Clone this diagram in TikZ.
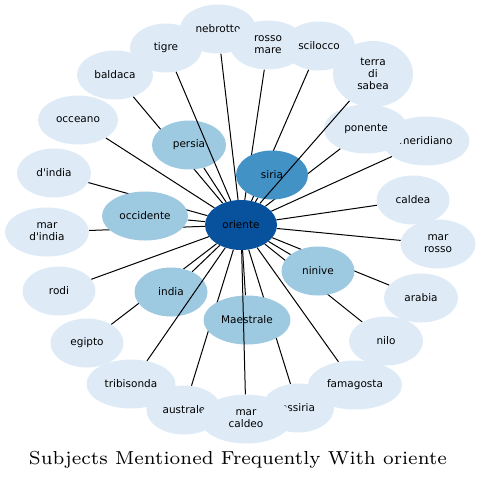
\documentclass[tikz,border=0pt]{standalone}
\usepackage{fontspec}
\newfontfamily\nodefont{DejaVu Sans}
\newfontfamily\titlefont{lmroman7-regular.otf}
\usepackage{tikz}
\usetikzlibrary{shapes.geometric}
\definecolor{paleblue}{HTML}{DEEBF7}
\definecolor{midblue}{HTML}{9ECAE1}
\definecolor{brightblue}{HTML}{4292C6}
\definecolor{deepblue}{HTML}{08519C}
\pgfdeclarelayer{background}
\pgfsetlayers{background,main}

\begin{document}
\begin{tikzpicture}[x=1pt,y=-1pt]
    \newcommand*{\nodeHeight}{49}
    \tikzstyle{subject}=[ellipse, fill=paleblue, inner sep=0pt, minimum height=\nodeHeight pt, align=center, font=\nodefont\fontsize{10.5}{12}\selectfont];
    \tikzstyle{frequent}=[subject, fill=midblue];
    \tikzstyle{link}=[line width=1pt, black];

    \useasboundingbox (0,0) rectangle (481,480);

    % outer ring, drawn in this order so that overlaps match
    \foreach \name/\x/\y/\w/\h/\txt in {tigre/166/48/72/49/tigre, nebrotto/218/29/76/49/nebrotto,
        rossomare/268/45/76/49/{rosso\\mare}, scilocco/319/46/72/49/scilocco,
        terra/373/74/80/66/{terra\\di\\sabea}, meridiano/426/141/87/49/meridiano,
        ponente/366/129/84/49/ponente, caldea/413/200/73/49/caldea,
        marrosso/438/244/75/49/{mar\\rosso}, arabia/421/298/74/49/arabia,
        nilo/386/341/74/49/nilo, famagosta/355/385/94/49/famagosta,
        assiria/298/408/72/49/assiria, australe/184/410/75/49/australe,
        marcaldeo/246/419/92/49/{mar\\caldeo}, tribisonda/131/384/89/49/tribisonda,
        egipto/87/343/73/49/egipto, rodi/59/291/73/49/rodi,
        mardindia/47/232/84/49/{mar\\d\textquotesingle india}, dindia/54/173/74/49/{d\textquotesingle india},
        occeano/78/120/80/49/occeano, baldaca/115/75/76/49/baldaca} {
      \node[subject, minimum width=\w pt, minimum height=\h pt] (\name) at (\x,\y) {\txt};
    }

    % inner ring
    \foreach \name/\x/\y/\w/\txt in {persia/189/145/74/persia, occidente/145/216/86/occidente,
        india/171/292/73/india, maestrale/247/320/87/Maestrale, ninive/318/271/73/ninive} {
      \node[frequent, minimum width=\w pt] (\name) at (\x,\y) {\txt};
    }
    \node[subject, fill=brightblue, minimum width=72pt] (siria) at (272,175) {siria};
    \node[subject, fill=deepblue, minimum width=72pt, minimum height=50pt] (oriente) at (241,225) {oriente};

    \begin{pgfonlayer}{background}
      \foreach \name in {nebrotto, rossomare, scilocco, meridiano, ponente, caldea, marrosso, arabia, nilo,
          famagosta, assiria, australe, egipto, rodi, mardindia, dindia, occeano, baldaca,
          persia, occidente, india, maestrale, ninive, siria} {
        \draw[link] (oriente) -- (\name);
      }
    \end{pgfonlayer}
    \foreach \name in {tigre, terra, marcaldeo, tribisonda} {
      \draw[link] (oriente) -- (\name);
    }

    \node[anchor=base, font=\titlefont\fontsize{18.8}{22}\selectfont] (title) at (238,464) {Subjects Mentioned Frequently With oriente};
\end{tikzpicture}
\end{document}
